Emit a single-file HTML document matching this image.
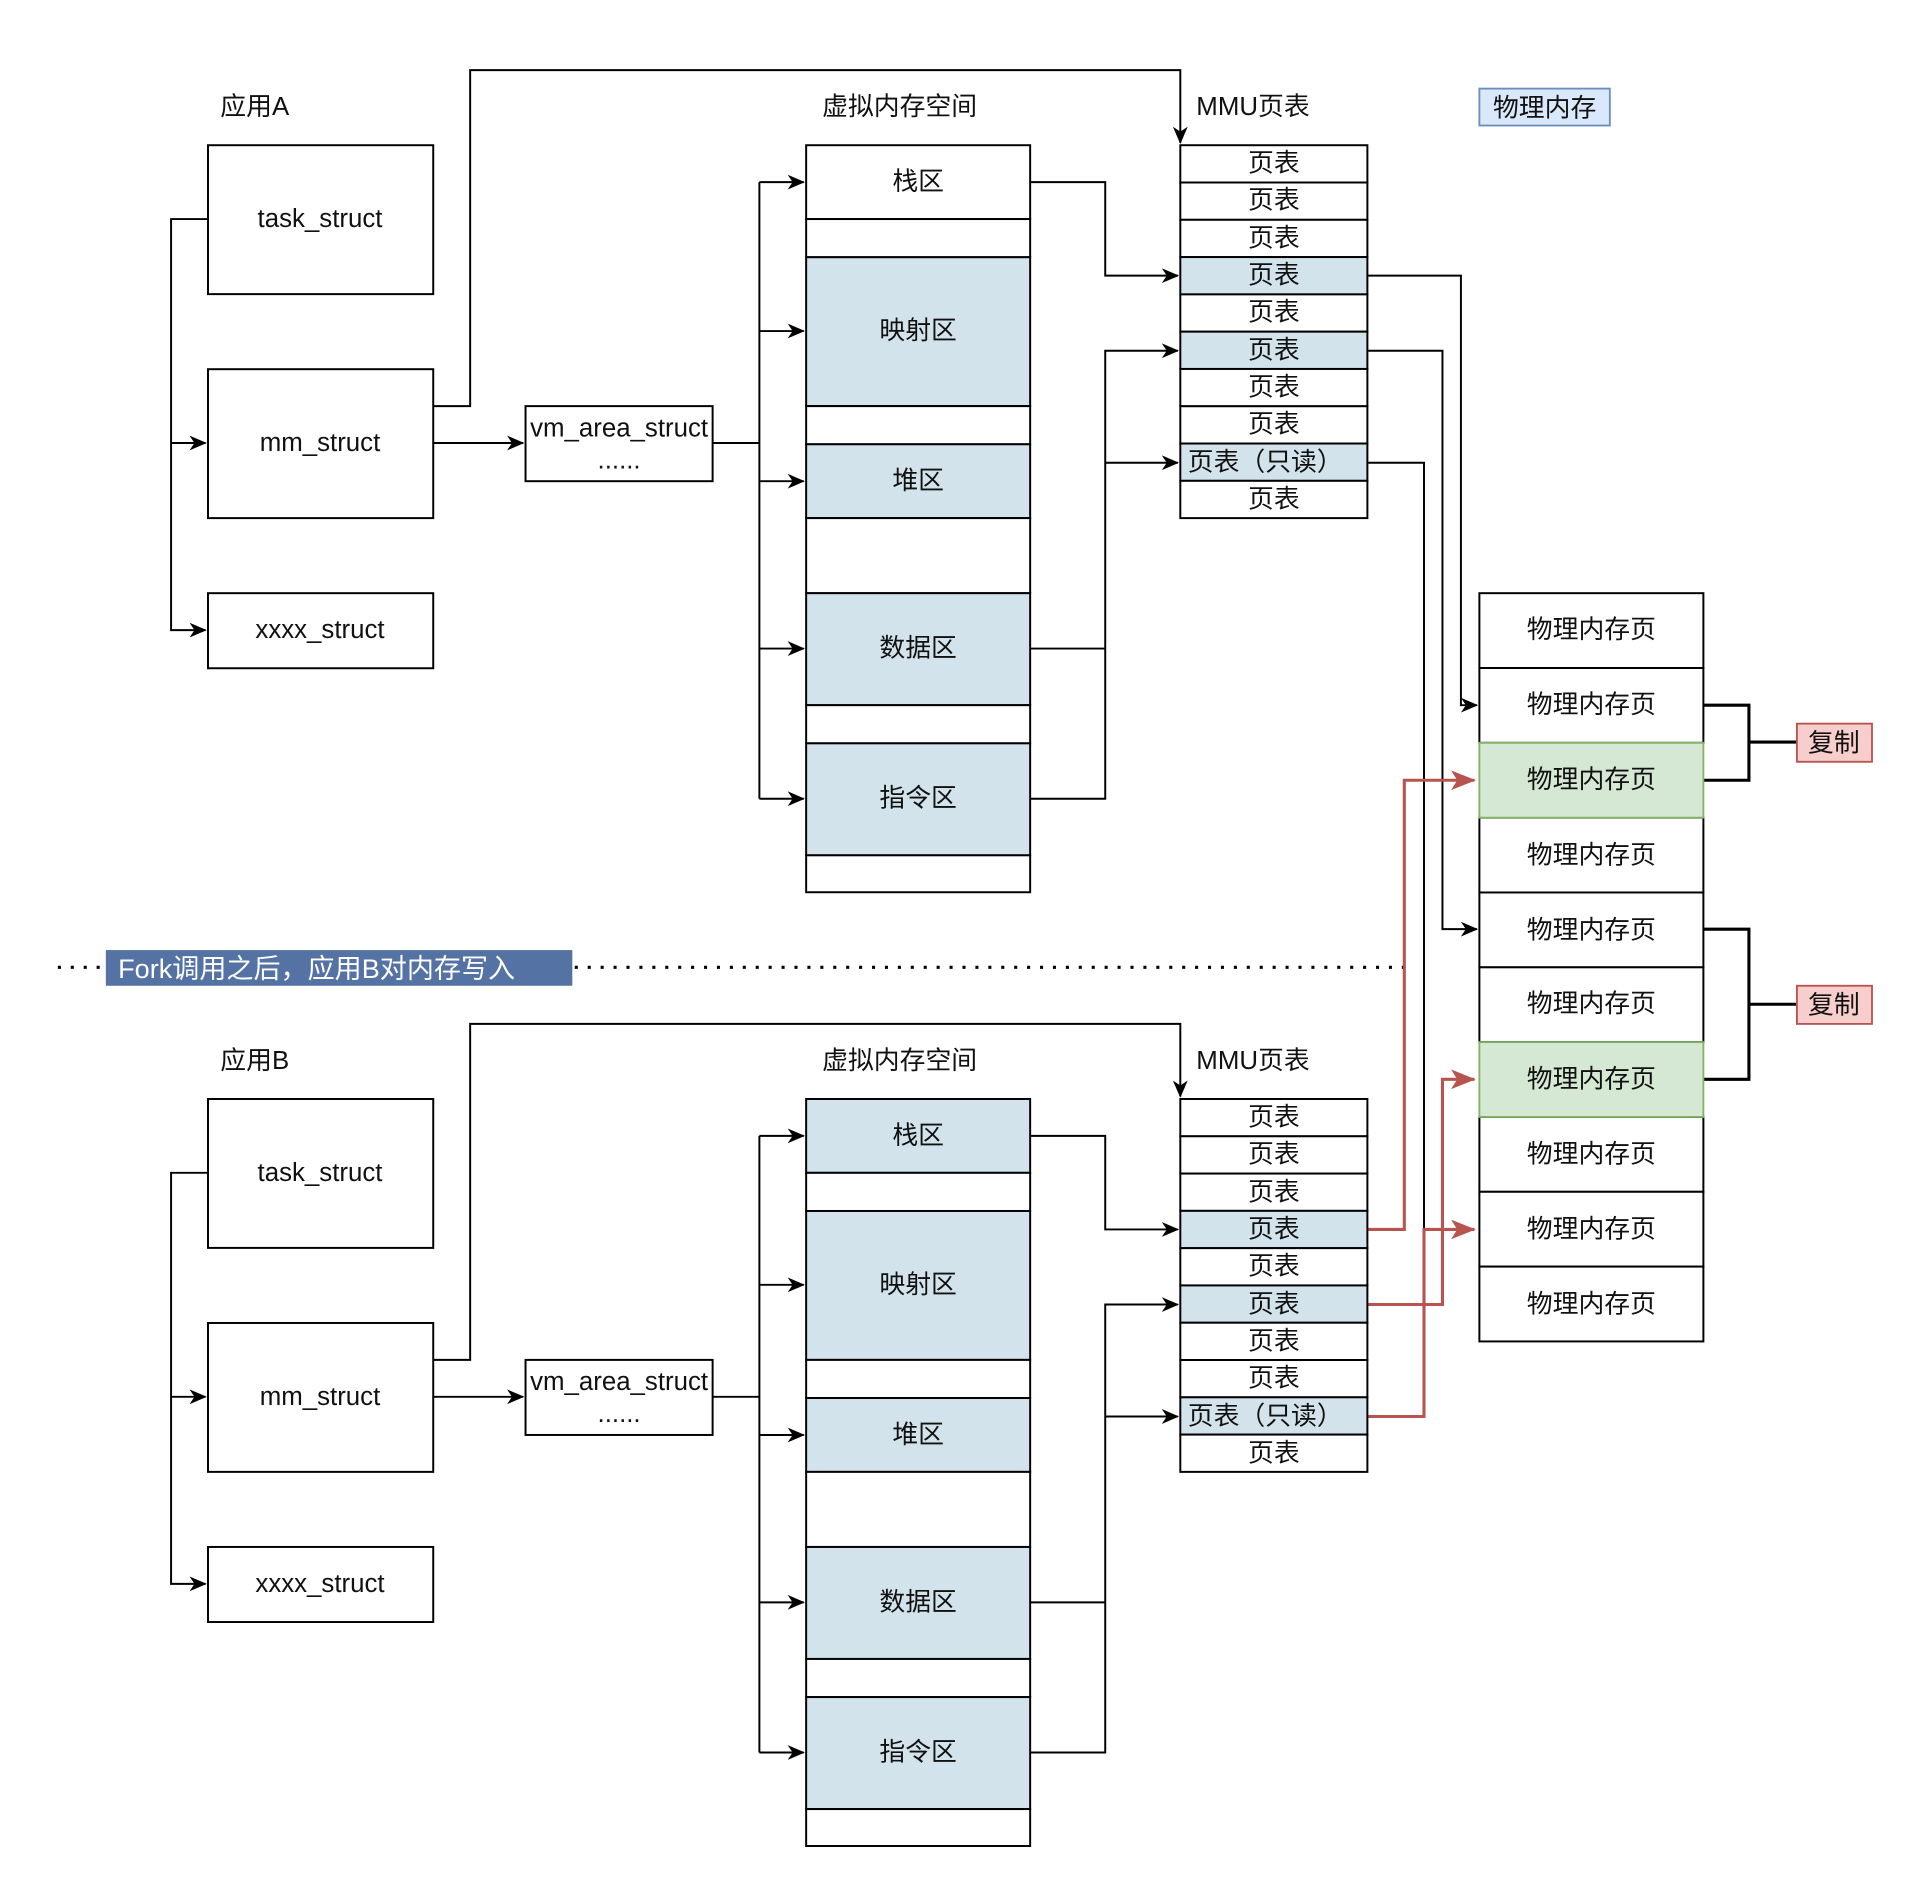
<!DOCTYPE html>
<html><head><meta charset="utf-8"><style>
html,body{margin:0;padding:0;background:#fff;}
svg{display:block;}
text{font-family:"Liberation Sans","Noto Sans CJK SC",sans-serif;font-size:21px;fill:#111;}
</style></head><body>
<svg width="1920" height="1894" viewBox="0 0 1560 1539" preserveAspectRatio="none" xmlns="http://www.w3.org/2000/svg">
<defs>
<marker id="a" markerWidth="14" markerHeight="12" refX="13" refY="6" orient="auto" markerUnits="userSpaceOnUse"><path d="M0,0 L14,6 L0,12 L4,6 Z" fill="#000"/></marker>
<marker id="r" markerWidth="20" markerHeight="16" refX="19" refY="8" orient="auto" markerUnits="userSpaceOnUse"><path d="M0,0 L20,8 L0,16 L5,8 Z" fill="#b85450"/></marker>
</defs>
<rect width="1560" height="1539" fill="#fff"/>
<g fill="none" stroke="#000" stroke-width="1.6">
<polyline points="169,178 139,178 139,512 167,512" marker-end="url(#a)"/>
<line x1="139" y1="360" x2="167" y2="360" marker-end="url(#a)"/>
<line x1="352" y1="360" x2="425" y2="360" marker-end="url(#a)"/>
<polyline points="352,330 382,330 382,57 959,57 959,116" marker-end="url(#a)"/>
<polyline points="579,360 617,360"/>
<line x1="617" y1="148" x2="617" y2="649"/>
<line x1="617" y1="148" x2="653" y2="148" marker-end="url(#a)"/>
<line x1="617" y1="269" x2="653" y2="269" marker-end="url(#a)"/>
<line x1="617" y1="391" x2="653" y2="391" marker-end="url(#a)"/>
<line x1="617" y1="527" x2="653" y2="527" marker-end="url(#a)"/>
<line x1="617" y1="649" x2="653" y2="649" marker-end="url(#a)"/>
<polyline points="837,148 898,148 898,224 957,224" marker-end="url(#a)"/>
<polyline points="837,649 898,649 898,285 957,285" marker-end="url(#a)"/>
<line x1="837" y1="527" x2="898" y2="527"/>
<line x1="898" y1="376" x2="957" y2="376" marker-end="url(#a)"/>
<polyline points="1111,224 1187,224 1187,573 1200,573" marker-end="url(#a)"/>
<polyline points="1111,285 1172,285 1172,755 1200,755" marker-end="url(#a)"/>
<polyline points="1111,376 1157,376 1157,998"/>
<polyline points="169,953 139,953 139,1287 167,1287" marker-end="url(#a)"/>
<line x1="139" y1="1135" x2="167" y2="1135" marker-end="url(#a)"/>
<line x1="352" y1="1135" x2="425" y2="1135" marker-end="url(#a)"/>
<polyline points="352,1105 382,1105 382,832 959,832 959,891" marker-end="url(#a)"/>
<polyline points="579,1135 617,1135"/>
<line x1="617" y1="923" x2="617" y2="1424"/>
<line x1="617" y1="923" x2="653" y2="923" marker-end="url(#a)"/>
<line x1="617" y1="1044" x2="653" y2="1044" marker-end="url(#a)"/>
<line x1="617" y1="1166" x2="653" y2="1166" marker-end="url(#a)"/>
<line x1="617" y1="1302" x2="653" y2="1302" marker-end="url(#a)"/>
<line x1="617" y1="1424" x2="653" y2="1424" marker-end="url(#a)"/>
<polyline points="837,923 898,923 898,999 957,999" marker-end="url(#a)"/>
<polyline points="837,1424 898,1424 898,1060 957,1060" marker-end="url(#a)"/>
<line x1="837" y1="1302" x2="898" y2="1302"/>
<line x1="898" y1="1151" x2="957" y2="1151" marker-end="url(#a)"/>
</g>
<g fill="none" stroke="#b85450" stroke-width="2.5">
<polyline points="1111,999 1141,999 1141,634 1198,634" marker-end="url(#r)"/>
<polyline points="1111,1060 1172,1060 1172,877 1198,877" marker-end="url(#r)"/>
<polyline points="1111,1151 1157,1151 1157,999 1198,999" marker-end="url(#r)"/>
</g>
<g fill="none" stroke="#000" stroke-width="2.5">
<polyline points="1384,573 1421,573 1421,634 1384,634"/>
<line x1="1421" y1="603" x2="1460" y2="603"/>
<polyline points="1384,755 1421,755 1421,877 1384,877"/>
<line x1="1421" y1="816" x2="1460" y2="816"/>
</g>
<rect x="1460" y="588" width="61" height="31" fill="#f8cecc" stroke="#b85450" stroke-width="1.5"/>
<text x="1490" y="604" text-anchor="middle" dominant-baseline="central">复制</text>
<rect x="1460" y="801" width="61" height="31" fill="#f8cecc" stroke="#b85450" stroke-width="1.5"/>
<text x="1490" y="817" text-anchor="middle" dominant-baseline="central">复制</text>

<line x1="47" y1="786" x2="1140" y2="786" stroke="#000" stroke-width="2.5" stroke-dasharray="2.5,8"/>
<rect x="86" y="772" width="379" height="29" fill="#5572a4"/>
<text x="96" y="787" dominant-baseline="central" style="fill:#fff;font-size:22px">Fork调用之后，应用B对内存写入</text>

<g stroke="#000" stroke-width="1.6">
<rect x="169" y="118" width="183" height="121" fill="#fff"/>
<rect x="169" y="300" width="183" height="121" fill="#fff"/>
<rect x="169" y="482" width="183" height="61" fill="#fff"/>
<rect x="427" y="330" width="152" height="61" fill="#fff"/>
<rect x="655" y="118" width="182" height="60" fill="#fff"/>
<rect x="655" y="178" width="182" height="31" fill="#fff"/>
<rect x="655" y="209" width="182" height="121" fill="#d3e3ec"/>
<rect x="655" y="330" width="182" height="31" fill="#fff"/>
<rect x="655" y="361" width="182" height="60" fill="#d3e3ec"/>
<rect x="655" y="421" width="182" height="61" fill="#fff"/>
<rect x="655" y="482" width="182" height="91" fill="#d3e3ec"/>
<rect x="655" y="573" width="182" height="31" fill="#fff"/>
<rect x="655" y="604" width="182" height="91" fill="#d3e3ec"/>
<rect x="655" y="695" width="182" height="30" fill="#fff"/>
<rect x="959" y="118" width="152" height="30.3" fill="#fff"/>
<rect x="959" y="148.3" width="152" height="30.3" fill="#fff"/>
<rect x="959" y="178.6" width="152" height="30.3" fill="#fff"/>
<rect x="959" y="208.9" width="152" height="30.3" fill="#d3e3ec"/>
<rect x="959" y="239.2" width="152" height="30.3" fill="#fff"/>
<rect x="959" y="269.5" width="152" height="30.3" fill="#d3e3ec"/>
<rect x="959" y="299.8" width="152" height="30.3" fill="#fff"/>
<rect x="959" y="330.1" width="152" height="30.3" fill="#fff"/>
<rect x="959" y="360.4" width="152" height="30.3" fill="#d3e3ec"/>
<rect x="959" y="390.7" width="152" height="30.3" fill="#fff"/>
<rect x="169" y="893" width="183" height="121" fill="#fff"/>
<rect x="169" y="1075" width="183" height="121" fill="#fff"/>
<rect x="169" y="1257" width="183" height="61" fill="#fff"/>
<rect x="427" y="1105" width="152" height="61" fill="#fff"/>
<rect x="655" y="893" width="182" height="60" fill="#d3e3ec"/>
<rect x="655" y="953" width="182" height="31" fill="#fff"/>
<rect x="655" y="984" width="182" height="121" fill="#d3e3ec"/>
<rect x="655" y="1105" width="182" height="31" fill="#fff"/>
<rect x="655" y="1136" width="182" height="60" fill="#d3e3ec"/>
<rect x="655" y="1196" width="182" height="61" fill="#fff"/>
<rect x="655" y="1257" width="182" height="91" fill="#d3e3ec"/>
<rect x="655" y="1348" width="182" height="31" fill="#fff"/>
<rect x="655" y="1379" width="182" height="91" fill="#d3e3ec"/>
<rect x="655" y="1470" width="182" height="30" fill="#fff"/>
<rect x="959" y="893" width="152" height="30.3" fill="#fff"/>
<rect x="959" y="923.3" width="152" height="30.3" fill="#fff"/>
<rect x="959" y="953.6" width="152" height="30.3" fill="#fff"/>
<rect x="959" y="983.9" width="152" height="30.3" fill="#d3e3ec"/>
<rect x="959" y="1014.2" width="152" height="30.3" fill="#fff"/>
<rect x="959" y="1044.5" width="152" height="30.3" fill="#d3e3ec"/>
<rect x="959" y="1074.8" width="152" height="30.3" fill="#fff"/>
<rect x="959" y="1105.1" width="152" height="30.3" fill="#fff"/>
<rect x="959" y="1135.4" width="152" height="30.3" fill="#d3e3ec"/>
<rect x="959" y="1165.7" width="152" height="30.3" fill="#fff"/>
<rect x="1202" y="482" width="182" height="60.8" fill="#fff"/>
<rect x="1202" y="542.8" width="182" height="60.8" fill="#fff"/>
<rect x="1202" y="664.4" width="182" height="60.8" fill="#fff"/>
<rect x="1202" y="725.2" width="182" height="60.8" fill="#fff"/>
<rect x="1202" y="786" width="182" height="60.8" fill="#fff"/>
<rect x="1202" y="907.6" width="182" height="60.8" fill="#fff"/>
<rect x="1202" y="968.4" width="182" height="60.8" fill="#fff"/>
<rect x="1202" y="1029.2" width="182" height="60.8" fill="#fff"/>
</g>
<rect x="1202" y="603.6" width="182" height="60.8" fill="#d5e8d4" stroke="#82b366" stroke-width="1.5"/>
<rect x="1202" y="846.8" width="182" height="60.8" fill="#d5e8d4" stroke="#82b366" stroke-width="1.5"/>
<rect x="1202" y="72" width="106" height="30" fill="#dae8fc" stroke="#6c8ebf" stroke-width="1.5"/>
<text x="1255" y="88" text-anchor="middle" dominant-baseline="central">物理内存</text>

<g text-anchor="middle" dominant-baseline="central">
<text x="1293" y="512">物理内存页</text>
<text x="1293" y="573">物理内存页</text>
<text x="1293" y="634">物理内存页</text>
<text x="1293" y="695">物理内存页</text>
<text x="1293" y="756">物理内存页</text>
<text x="1293" y="816">物理内存页</text>
<text x="1293" y="877">物理内存页</text>
<text x="1293" y="938">物理内存页</text>
<text x="1293" y="999">物理内存页</text>
<text x="1293" y="1060">物理内存页</text>

<text x="260" y="178">task_struct</text>
<text x="260" y="360">mm_struct</text>
<text x="260" y="512">xxxx_struct</text>
<text x="503" y="348">vm_area_struct</text>
<text x="503" y="374">......</text>
<text x="746" y="148">栈区</text>
<text x="746" y="269">映射区</text>
<text x="746" y="391">堆区</text>
<text x="746" y="527">数据区</text>
<text x="746" y="649">指令区</text>
<text x="1035" y="133">页表</text>
<text x="1035" y="163">页表</text>
<text x="1035" y="194">页表</text>
<text x="1035" y="224">页表</text>
<text x="1035" y="254">页表</text>
<text x="1035" y="285">页表</text>
<text x="1035" y="315">页表</text>
<text x="1035" y="345">页表</text>
<text x="1028" y="376">页表（只读）</text>
<text x="1035" y="406">页表</text>

<text x="260" y="953">task_struct</text>
<text x="260" y="1135">mm_struct</text>
<text x="260" y="1287">xxxx_struct</text>
<text x="503" y="1123">vm_area_struct</text>
<text x="503" y="1149">......</text>
<text x="746" y="923">栈区</text>
<text x="746" y="1044">映射区</text>
<text x="746" y="1166">堆区</text>
<text x="746" y="1302">数据区</text>
<text x="746" y="1424">指令区</text>
<text x="1035" y="908">页表</text>
<text x="1035" y="938">页表</text>
<text x="1035" y="969">页表</text>
<text x="1035" y="999">页表</text>
<text x="1035" y="1029">页表</text>
<text x="1035" y="1060">页表</text>
<text x="1035" y="1090">页表</text>
<text x="1035" y="1120">页表</text>
<text x="1028" y="1151">页表（只读）</text>
<text x="1035" y="1181">页表</text>
</g>
<g dominant-baseline="central">
<text x="179" y="87">应用A</text>
<text x="668" y="87">虚拟内存空间</text>
<text x="972" y="87">MMU页表</text>
<text x="179" y="862">应用B</text>
<text x="668" y="862">虚拟内存空间</text>
<text x="972" y="862">MMU页表</text>
</g>
</svg>
</body></html>
